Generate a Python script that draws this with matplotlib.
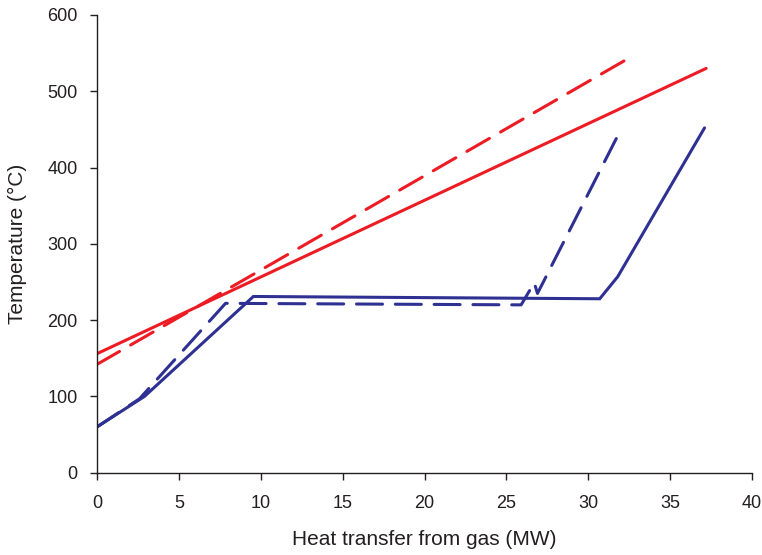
import matplotlib
matplotlib.use("Agg")
import matplotlib.pyplot as plt

plt.rcParams['font.family'] = ['Liberation Sans', 'DejaVu Sans']

# Data
gas_solid_x = [0, 37.2]
gas_solid_y = [156, 530]
gas_dashed_x = [0, 32.2]
gas_dashed_y = [142, 540]

steam_solid_x = [0, 2.9, 9.55, 30.7, 31.8, 37.1]
steam_solid_y = [60, 100, 231, 228, 257, 452]
steam_dashed_x = [0, 2.6, 7.85, 25.9, 26.7, 26.9, 31.9]
steam_dashed_y = [60, 97, 222, 220, 249, 235, 446]

xticks = [0, 5, 10, 15, 20, 25, 30, 35, 40]
yticks = [0, 100, 200, 300, 400, 500, 600]

RED = '#ED1C24'
BLUE = '#2E3192'
TXT = '#231F20'

fig = plt.figure(figsize=(7.62, 5.55), dpi=100)
ax = fig.add_axes([0.1273, 0.1483, 0.8596, 0.8247])

lw = 2.2
ax.plot(gas_solid_x, gas_solid_y, color=RED, lw=lw, solid_capstyle='round')
l, = ax.plot(gas_dashed_x, gas_dashed_y, color=RED, lw=lw, dash_capstyle='round')
l.set_dashes((8.5, 4.2))
ax.plot(steam_solid_x, steam_solid_y, color=BLUE, lw=lw, solid_capstyle='round', solid_joinstyle='miter')
l2, = ax.plot(steam_dashed_x, steam_dashed_y, color=BLUE, lw=lw, dash_capstyle='round')
l2.set_dashes((8.5, 4.2))

ax.set_xlim(0, 40)
ax.set_ylim(0, 600)
ax.set_xticks(xticks)
ax.set_yticks(yticks)
for s in ['top', 'right']:
    ax.spines[s].set_visible(False)
for s in ['left', 'bottom']:
    ax.spines[s].set_color(TXT)
    ax.spines[s].set_linewidth(1.0)
ax.tick_params(axis='both', direction='out', length=5, width=1.0, color=TXT,
               labelcolor=TXT, labelsize=13)
ax.tick_params(axis='x', pad=11)
ax.tick_params(axis='y', pad=9)
ax.set_xlabel('Heat transfer from gas (MW)', fontsize=15, color=TXT)
ax.set_ylabel('Temperature (°C)', fontsize=15, color=TXT)
ax.xaxis.label.set_va('center')
ax.yaxis.label.set_va('center')
ax.xaxis.set_label_coords(0.5, -0.147)
ax.yaxis.set_label_coords(-0.1214, 0.5)

fig.savefig('out.png', dpi=100)
